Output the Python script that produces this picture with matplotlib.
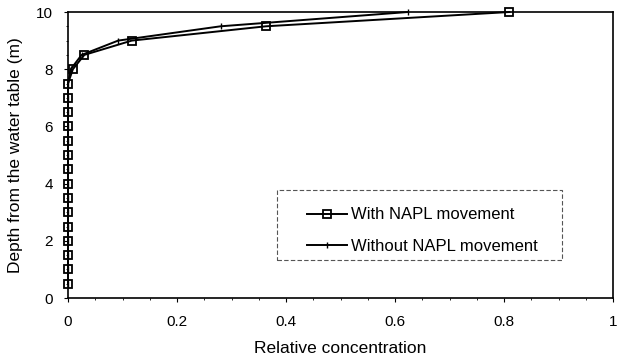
import matplotlib
matplotlib.use("Agg")
import matplotlib.pyplot as plt
from matplotlib.ticker import MultipleLocator
from matplotlib.patches import Rectangle

plt.rcParams['font.family'] = ['Liberation Sans', 'DejaVu Sans']

depth = [0.5, 1.0, 1.5, 2.0, 2.5, 3.0, 3.5, 4.0, 4.5, 5.0, 5.5, 6.0, 6.5, 7.0, 7.5,
         8.0, 8.5, 9.0, 9.5, 10.0]
with_napl = [0, 0, 0, 0, 0, 0, 0, 0, 0, 0, 0, 0, 0, 0, 0,
             0.009, 0.03, 0.117, 0.363, 0.81]
without_napl = [0, 0, 0, 0, 0, 0, 0, 0, 0, 0, 0, 0, 0, 0, 0,
                0.005, 0.025, 0.092, 0.28, 0.624]
xticks = [0, 0.2, 0.4, 0.6, 0.8, 1.0]
xticklabels = ['0', '0.2', '0.4', '0.6', '0.8', '1']
yticks = [0, 2, 4, 6, 8, 10]
yticklabels = ['0', '2', '4', '6', '8', '10']

fig = plt.figure(figsize=(6.22, 3.6), dpi=100)
ax = fig.add_axes([68/622, 1-298/360, (613-68)/622, (298-12)/360])

ax.plot(with_napl, depth, color='black', lw=1.4, marker='s', ms=5.5,
        mfc='none', mec='black', mew=1.3, clip_on=False, zorder=3,
        label='With NAPL movement')
ax.plot(without_napl, depth, color='black', lw=1.4, marker='|', ms=4,
        mew=1.0, clip_on=False, zorder=2,
        label='Without NAPL movement')

ax.set_xlim(0, 1)
ax.set_ylim(0, 10)
ax.set_xticks(xticks)
ax.set_xticklabels(xticklabels)
ax.set_yticks(yticks)
ax.set_yticklabels(yticklabels)
ax.xaxis.set_minor_locator(MultipleLocator(0.05))
ax.yaxis.set_minor_locator(MultipleLocator(0.5))
ax.tick_params(axis='both', which='major', direction='out', length=3, width=0.8,
               labelsize=11)
ax.tick_params(axis='y', which='major', pad=8)
ax.tick_params(axis='x', which='major', pad=9)
ax.tick_params(axis='both', which='minor', direction='out', length=1.5, width=0.6)
for s in ax.spines.values():
    s.set_linewidth(1.2)

ax.set_xlabel('Relative concentration', fontsize=12.5, labelpad=9)
ax.set_ylabel('Depth from the water table (m)', fontsize=12.5, labelpad=9)

# legend frame (dashed box) in axes coordinates
bx0 = (277-68)/545
bx1 = (562-68)/545
by0 = (298-260)/286
by1 = (298-190)/286
frame = Rectangle((bx0, by0), bx1-bx0, by1-by0, transform=ax.transAxes,
                  fill=True, facecolor='white', edgecolor='#555555',
                  linewidth=0.8, linestyle=(0, (4, 2)), zorder=4)
ax.add_patch(frame)

leg = ax.legend(loc='center', bbox_to_anchor=((bx0+bx1)/2 + 0.005, (by0+by1)/2 - 0.02),
                frameon=False, fontsize=12,
                handlelength=2.4, handletextpad=0.2, labelspacing=1.0,
                borderpad=0.0, borderaxespad=0)
leg.set_zorder(5)

fig.savefig('out.png', dpi=100)
